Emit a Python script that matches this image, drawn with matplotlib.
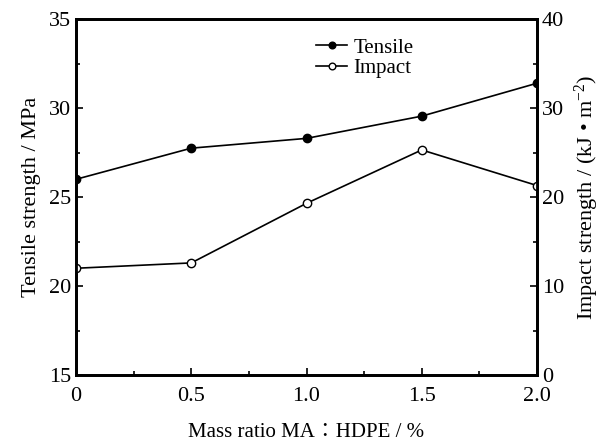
import matplotlib
matplotlib.use("Agg")
import matplotlib.pyplot as plt
from matplotlib.ticker import MultipleLocator

plt.rcParams['font.family'] = ['Liberation Serif', 'Noto Sans CJK SC', 'DejaVu Serif']
plt.rcParams['mathtext.fontset'] = 'custom'
plt.rcParams['mathtext.rm'] = 'Liberation Serif'
plt.rcParams['mathtext.it'] = 'Liberation Serif:italic'

ratio = [0, 0.5, 1.0, 1.5, 2.0]
tensile = [26.0, 27.75, 28.3, 29.55, 31.4]
impact = [12.0, 12.6, 19.3, 25.3, 21.3]
x_ticklabels = ['0', '0.5', '1.0', '1.5', '2.0']

fig = plt.figure(figsize=(6.01, 4.42), dpi=100)
ax = fig.add_axes([0.1265, 0.1516, 0.767, 0.805])
ax2 = ax.twinx()

l1, = ax.plot(ratio, tensile, '-o', color='black', lw=1.2, ms=6,
              mfc='black', mec='black', label='Tensile')
l2, = ax2.plot(ratio, impact, '-o', color='black', lw=1.2, ms=6,
               mfc='white', mec='black', mew=1.0, label='Impact')

ax.set_xlim(0, 2.0)
ax.set_ylim(15, 35)
ax2.set_ylim(0, 40)
ax.set_xticks(ratio)
ax.set_xticklabels(x_ticklabels)
ax.xaxis.set_minor_locator(MultipleLocator(0.25))
ax.yaxis.set_major_locator(MultipleLocator(5))
ax.yaxis.set_minor_locator(MultipleLocator(2.5))
ax2.yaxis.set_major_locator(MultipleLocator(10))
ax2.yaxis.set_minor_locator(MultipleLocator(5))

for a in (ax, ax2):
    for s in a.spines.values():
        s.set_linewidth(2.0)
    a.tick_params(which='both', direction='in', labelsize=16, width=1.2)
    a.tick_params(which='major', length=5)
    a.tick_params(which='minor', length=3)
ax.tick_params(axis='x', pad=9)

ax.set_xlabel('Mass ratio MA∶HDPE / %', fontsize=15, labelpad=12)
ax.set_ylabel('Tensile strength / MPa', fontsize=16, labelpad=6)
ax2.set_ylabel('Impact strength / (kJ • m$^{-2}$)', fontsize=16, labelpad=6)

ax.legend([l1, l2], ['Tensile', 'Impact'], loc='upper left',
          bbox_to_anchor=(0.48, 1.0), frameon=False, fontsize=15,
          handlelength=1.5, handletextpad=0.3, labelspacing=0.05,
          markerscale=0.8)

fig.savefig('out.png', dpi=100)
